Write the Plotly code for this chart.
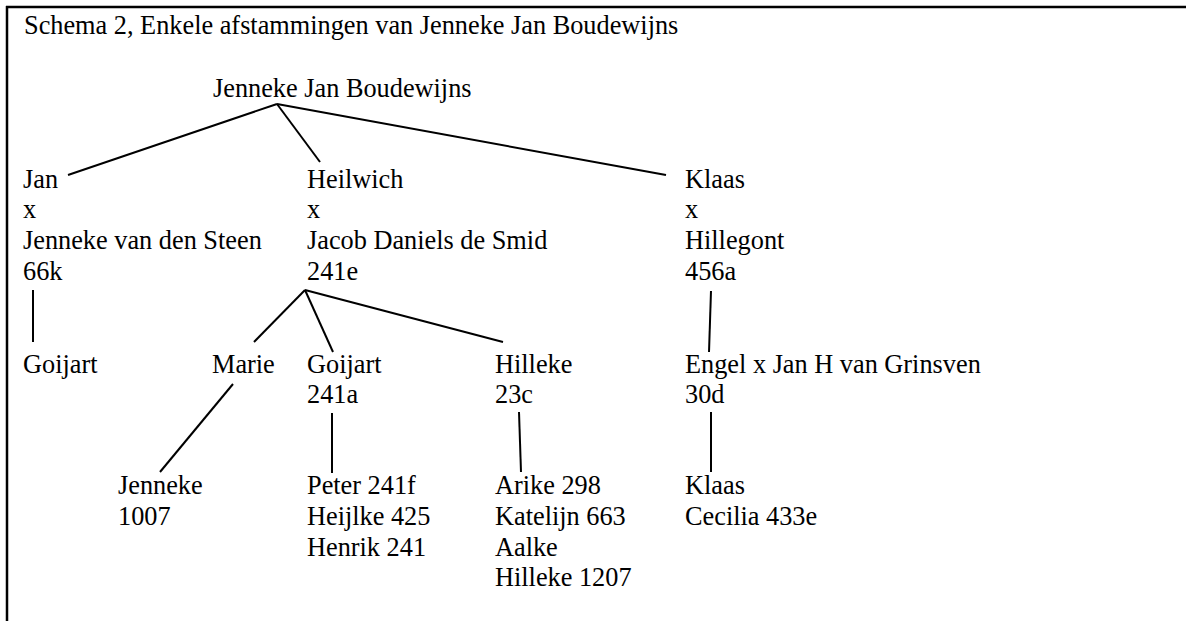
import plotly.graph_objects as go

# ---- content (text of the family-tree scheme) ----
title_text = "Schema 2, Enkele afstammingen van Jenneke Jan Boudewijns"

labels = [
    "Jenneke Jan Boudewijns",
    "Jan", "x", "Jenneke van den Steen", "66k",
    "Heilwich", "x", "Jacob Daniels de Smid", "241e",
    "Klaas", "x", "Hillegont", "456a",
    "Goijart", "Marie", "Goijart", "241a", "Hilleke", "23c",
    "Engel x Jan H van Grinsven", "30d",
    "Jenneke", "1007",
    "Peter 241f", "Heijlke 425", "Henrik 241",
    "Arike 298", "Katelijn 663", "Aalke", "Hilleke 1207",
    "Klaas", "Cecilia 433e",
]

# left edge and baseline of every label (pixel coordinates of the page)
label_x = [
    213,
    23, 23, 23, 23,
    307, 307, 307, 307,
    685, 685, 685, 685,
    23, 212, 307, 307, 495, 495,
    685, 685,
    118, 118,
    307, 307, 307,
    495, 495, 495, 495,
    685, 685,
]
label_base = [
    97,
    188, 218.5, 249, 280,
    188, 218.5, 249, 280,
    188, 218.5, 249, 280,
    373, 373, 373, 403.5, 373, 403.5,
    373, 403.5,
    494.5, 525,
    494.5, 525, 556,
    494.5, 525, 556, 586.5,
    494.5, 525,
]

# connecting lines: parent anchor -> child anchor
edge_x0 = [277, 277, 277, 33, 305, 305, 305, 711, 233, 332, 519, 711]
edge_y0 = [104, 104, 104, 290, 290, 290, 290, 291, 384, 413, 412, 412]
edge_x1 = [68, 320, 666, 33, 254, 333, 503, 709, 160, 332, 521, 711]
edge_y1 = [175, 162, 175, 342, 342, 352, 342, 352, 472, 473, 472, 472]

FS = 26.3
FONT = "Liberation Serif, Times New Roman, serif"

fig = go.Figure()

# lines of the tree
lx, ly = [], []
for a, b, c, d in zip(edge_x0, edge_y0, edge_x1, edge_y1):
    lx += [a, c, None]
    ly += [b, d, None]
fig.add_trace(go.Scatter(x=lx, y=ly, mode="lines",
                         line=dict(color="black", width=2),
                         hoverinfo="skip", showlegend=False))

# text labels ("middle right": baseline sits 0.25*fontsize below y)
all_text = [title_text] + labels
all_x = [24] + label_x
all_y = [34 - 0.25 * FS] + [b - 0.25 * FS for b in label_base]
fig.add_trace(go.Scatter(x=all_x, y=all_y, mode="text", text=all_text,
                         textposition="middle right",
                         textfont=dict(family=FONT, size=FS, color="black"),
                         hoverinfo="skip", showlegend=False))

# frame (top and left border)
fig.add_shape(type="line", xref="x", yref="y", x0=6, x1=1186, y0=7, y1=7,
              line=dict(color="black", width=2.5))
fig.add_shape(type="line", xref="x", yref="y", x0=7, x1=7, y0=6, y1=621,
              line=dict(color="black", width=2.5))

fig.update_layout(
    width=1186, height=621,
    margin=dict(l=0, r=0, t=0, b=0),
    paper_bgcolor="white", plot_bgcolor="white",
    xaxis=dict(range=[0, 1186], visible=False, fixedrange=True),
    yaxis=dict(range=[621, 0], visible=False, fixedrange=True),
    showlegend=False,
)

fig.write_html("out.html", config={"displayModeBar": False},
               post_script="document.body.style.margin='0';document.body.style.overflow='hidden';")
